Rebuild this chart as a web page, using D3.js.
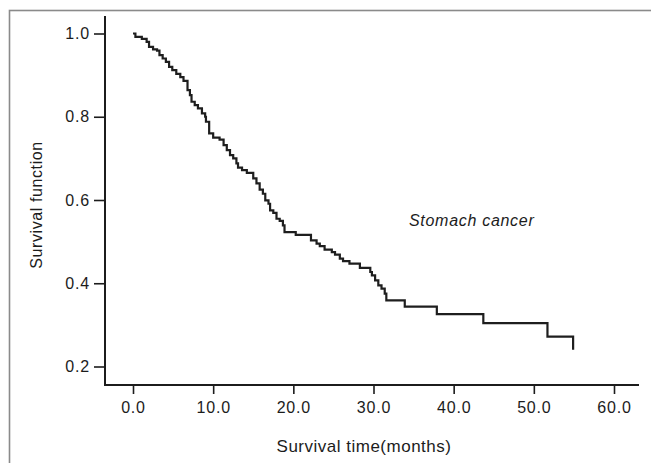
<!DOCTYPE html>
<meta charset="utf-8">
<script src="https://d3js.org/d3.v7.min.js"></script>
<style>
  body { margin: 0; background: #fff; }
  text { font-family: "Liberation Sans", Arial, sans-serif; fill: #1c1c1c; }
</style>
<div id="km"></div>
<script>

// survival curve (Kaplan-Meier, step after each event time)
var times = [0, 0.3, 1.1, 1.7, 2.0, 2.5, 3.0, 3.3, 3.7, 4.1, 4.5, 4.9, 5.4, 5.9, 6.3,
  6.8, 7.1, 7.3, 7.7, 8.1, 8.6, 9.0, 9.1, 9.5, 10.0, 10.8, 11.3, 11.7, 12.1, 12.5,
  12.9, 13.1, 13.6, 14.2, 15.0, 15.4, 15.8, 16.2, 16.5, 16.9, 17.1, 17.5, 17.9, 18.3,
  18.7, 18.9, 20.3, 22.2, 22.9, 23.3, 23.9, 24.8, 25.2, 25.8, 26.2, 27.0, 28.3, 29.6,
  29.8, 30.2, 30.6, 31.0, 31.4, 31.6, 33.9, 37.9, 43.7, 51.7, 54.9]
var survival = [1.0, 0.992, 0.987, 0.980, 0.968, 0.962, 0.959, 0.948, 0.940, 0.932, 0.920, 0.912, 0.903, 0.895, 0.886,
  0.864, 0.852, 0.836, 0.828, 0.820, 0.808, 0.800, 0.788, 0.760, 0.750, 0.745, 0.732, 0.720, 0.708, 0.700,
  0.688, 0.678, 0.672, 0.665, 0.652, 0.640, 0.625, 0.615, 0.599, 0.591, 0.575, 0.569, 0.555, 0.550,
  0.539, 0.523, 0.516, 0.503, 0.495, 0.489, 0.481, 0.475, 0.469, 0.459, 0.453, 0.447, 0.437, 0.427,
  0.419, 0.407, 0.395, 0.387, 0.375, 0.359, 0.344, 0.326, 0.304, 0.272, 0.240]

var xTicks = [0, 10, 20, 30, 40, 50, 60]
var yTicks = [0.2, 0.4, 0.6, 0.8, 1.0]

var width = 651, height = 463

var svg = d3.select("#km")
  .append("svg")
    .attr("width", width)
    .attr("height", height)

// grey frame (only top and left edges show)
svg.append("rect")
  .attr("x", 9.5).attr("y", 10.5)
  .attr("width", 700).attr("height", 500)
  .attr("fill", "none")
  .attr("stroke", "#8a8a8a")
  .attr("stroke-width", 1.6)

var x = d3.scaleLinear().domain([0, 60]).range([133, 614])
var y = d3.scaleLinear().domain([0.2, 1.0]).range([366.5, 33.5])

var axisX = 105, axisY = 385

// axis lines
svg.append("line")
  .attr("x1", axisX).attr("x2", axisX)
  .attr("y1", 16).attr("y2", axisY + 1)
  .attr("stroke", "#1c1c1c").attr("stroke-width", 2)
svg.append("line")
  .attr("x1", axisX - 1).attr("x2", 639)
  .attr("y1", axisY).attr("y2", axisY)
  .attr("stroke", "#1c1c1c").attr("stroke-width", 2)

// Y axis ticks
var gy = svg.append("g")
  .attr("transform", "translate(" + axisX + ",0)")
  .call(d3.axisLeft(y).tickValues(yTicks).tickFormat(d3.format(".1f")).tickSize(11).tickPadding(4))
gy.select(".domain").remove()
gy.selectAll("line").attr("stroke", "#1c1c1c").attr("stroke-width", 1.6)
gy.selectAll("text")
  .style("font-size", "16px")
  .style("letter-spacing", "0.8px")
  .style("fill", "#1c1c1c")

// X axis ticks
var gx = svg.append("g")
  .attr("transform", "translate(0," + (axisY + 1) + ")")
  .call(d3.axisBottom(x).tickValues(xTicks).tickFormat(d3.format(".1f")).tickSize(8).tickPadding(8))
gx.select(".domain").remove()
gx.selectAll("line").attr("stroke", "#1c1c1c").attr("stroke-width", 1.6)
gx.selectAll("text")
  .style("font-size", "16px")
  .style("letter-spacing", "0.8px")
  .style("fill", "#1c1c1c")

// the curve
var data = times.map(function(t, i) { return {t: t, s: survival[i]} })
svg.append("path")
  .datum(data)
  .attr("d", d3.line()
    .curve(d3.curveStepAfter)
    .x(function(d) { return x(d.t) })
    .y(function(d) { return y(d.s) })
  )
  .attr("fill", "none")
  .attr("stroke", "#1e1e1e")
  .attr("stroke-width", 2.2)

// labels
svg.append("text")
  .attr("x", 364).attr("y", 451.5)
  .attr("text-anchor", "middle")
  .style("font-size", "17px")
  .style("letter-spacing", "0.5px")
  .text("Survival time(months)")

svg.append("text")
  .attr("transform", "translate(42,205) rotate(-90)")
  .attr("text-anchor", "middle")
  .style("font-size", "16px")
  .style("letter-spacing", "0.6px")
  .text("Survival function")

svg.append("text")
  .attr("x", 409).attr("y", 225.5)
  .style("font-size", "16px")
  .style("font-style", "italic")
  .style("letter-spacing", "0.7px")
  .text("Stomach cancer")

</script>
